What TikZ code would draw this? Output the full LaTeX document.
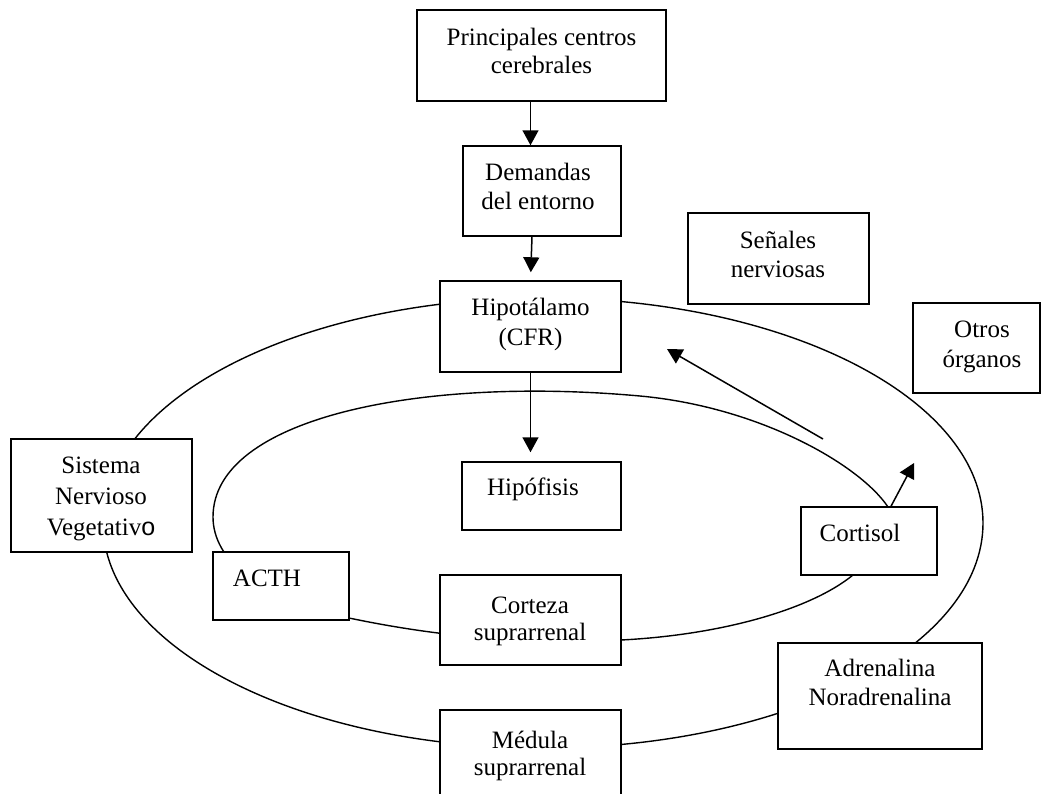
\documentclass[tikz,border=0pt]{standalone}
\usepackage{fontspec}
\setmainfont{Liberation Serif}
\newfontfamily\sansf{Liberation Sans}
\usetikzlibrary{arrows.meta,calc}
\newcommand\tl[1]{\parbox[t]{330pt}{\centering #1}}
\tikzset{
  box/.style={draw, fill=white, line width=1.5pt, inner sep=0pt, rectangle},
  txt/.style={anchor=base, inner sep=0pt, font=\fontsize{25}{29}\selectfont},
  curve/.style={line width=1.4pt},
  arr/.style={line width=1.5pt, -{Triangle[length=15pt,width=16pt]}}
}
\begin{document}
\begin{tikzpicture}[x=1pt,y=-1pt]
\clip (0,0) rectangle (1041,793);
\fill[white] (0,0) rectangle (1041,793);
% outer cycle
\draw[curve] (543,523) ellipse [x radius=440pt, y radius=225pt];
% inner cycle
\draw[curve] (640,396) .. controls (420,376) and (213,418) .. (213,517)
  .. controls (213,560) and (260,600) .. (349,618)
  .. controls (430,635) and (520,645) .. (621,640)
  .. controls (720,635) and (810,610) .. (853,575)
  .. controls (880,553) and (900,525) .. (888,507)
  .. controls (860,465) and (760,407) .. (640,396) -- cycle;
% boxes
\node[box, minimum width=249pt, minimum height=91pt] (pcc) at (541.5,55.5) {};
\node[box, minimum width=158pt, minimum height=90pt] (dem) at (542,191) {};
\node[box, minimum width=181pt, minimum height=91pt] (hip) at (530.5,326.5) {};
\node[box, minimum width=181pt, minimum height=91pt] (sen) at (778.5,258.5) {};
\node[box, minimum width=127pt, minimum height=90pt] (otr) at (976.5,348) {};
\node[box, minimum width=181pt, minimum height=113pt] (snv) at (101.5,495.5) {};
\node[box, minimum width=159pt, minimum height=68pt] (hipof) at (541.5,496) {};
\node[box, minimum width=136pt, minimum height=68pt] (acth) at (281,586) {};
\node[box, minimum width=136pt, minimum height=68pt] (cort) at (869,541) {};
\node[box, minimum width=181pt, minimum height=90pt] (corz) at (530.5,620) {};
\node[box, minimum width=204pt, minimum height=106pt] (adr) at (880,696) {};
\node[box, minimum width=181pt, minimum height=90pt] (med) at (530.5,755) {};
% texts
\node[txt] (pcc-t) at (541.5,45) {\tl{Principales centros\\[-1pt]cerebrales}};
\node[txt] (dem-t) at (538,180) {\tl{Demandas\\del entorno}};
\node[txt] (hip-t) at (530.5,315) {\tl{Hipotálamo\\[1pt](CFR)}};
\node[txt] (sen-t) at (778,248) {\tl{Señales\\nerviosas}};
\node[txt] (otr-t) at (982,337) {\tl{Otros\\[1pt]órganos}};
\node[txt] (snv-t) at (101,473) {\tl{Sistema\\[2pt]Nervioso\\[2pt]Vegetativ{\sansf o}}};
\node[txt] (hipof-t) at (533,495) {Hipófisis};
\node[txt] (acth-t) at (267,586) {ACTH};
\node[txt] (cort-t) at (860,541) {Cortisol};
\node[txt] (corz-t) at (530,613) {\tl{Corteza\\[-2pt]suprarrenal}};
\node[txt] (adr-t) at (880,676) {\tl{Adrenalina\\Noradrenalina}};
\node[txt] (med-t) at (530,748) {\tl{Médula\\[-2pt]suprarrenal}};
% arrows
\draw[arr] (pcc.south -| hip.center) -- (dem.north -| hip.center);
\draw[arr, shorten >=8pt] (dem.south -| 532,0) -- (hip.north -| hip.center);
\draw[arr, shorten >=9pt] (hip.south) -- (hip.south |- hipof.north);
\coordinate (fbtail) at (823,439);
\coordinate (fbtip) at (667,349);
\draw[arr] (fbtail) -- (fbtip);
\coordinate (otip) at (914,463);
\draw[arr] ([xshift=22pt]cort.north) -- (otip);
\end{tikzpicture}
\end{document}
